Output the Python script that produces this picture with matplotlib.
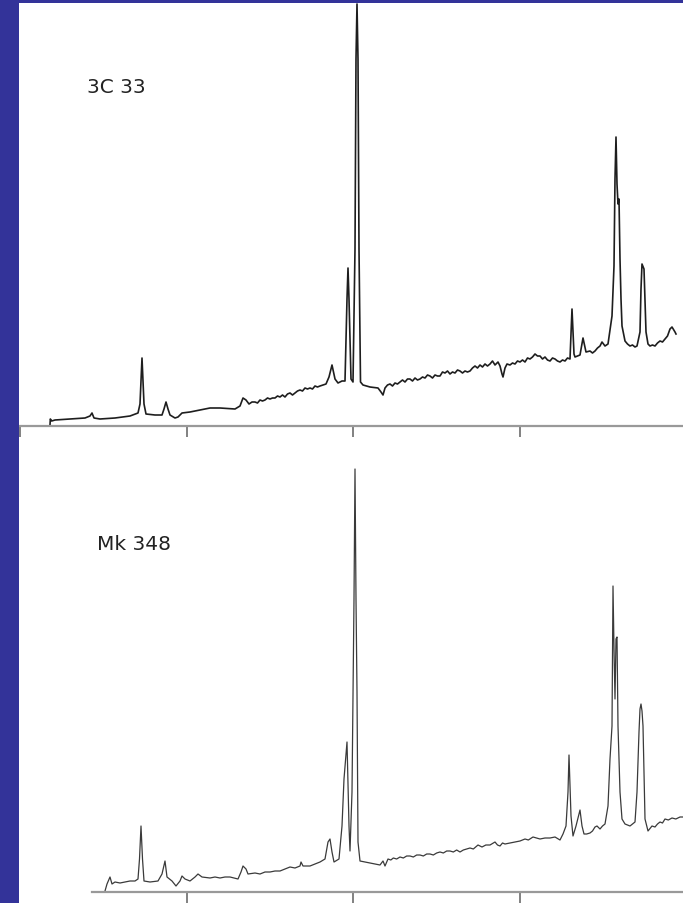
"""
    Optical spectra of the radio galaxy 3C 33 and the Seyfert Mk 348,
    traced from a scanned figure (observed wavelength vs. relative flux).
"""

import numpy as np
import matplotlib.pyplot as plt
from matplotlib.patches import Rectangle

plt.close('all')

# --- data: observed wavelength (Angstrom) and relative flux (arbitrary units)
wave_3c33 = [3180, 3182, 3190, 3210, 3300, 3390, 3420, 3432, 3444, 3480, 3570, 3660,
             3708, 3720, 3732, 3744, 3756, 3810, 3852, 3864, 3876, 3888, 3900, 3930,
             3948, 3972, 4020, 4080, 4140, 4200, 4290, 4320, 4338, 4356, 4374, 4392,
             4410, 4425, 4440, 4455, 4470, 4485, 4500, 4515, 4530, 4545, 4560, 4575,
             4590, 4605, 4620, 4635, 4650, 4665, 4680, 4695, 4710, 4725, 4740, 4755,
             4770, 4785, 4800, 4836, 4854, 4872, 4890, 4908,
             4932, 4950, 4962, 4968, 4974, 4986, 4998, 5010, 5016, 5022, 5028, 5034,
             5043, 5058, 5100, 5148, 5166, 5178, 5190, 5205, 5220, 5235, 5250, 5265,
             5280, 5295, 5310, 5325, 5340, 5355, 5370, 5385, 5400, 5415, 5430, 5445,
             5460, 5475, 5490, 5505, 5520, 5535, 5550, 5565, 5580, 5595, 5610, 5625,
             5640, 5655, 5670, 5685, 5700, 5715, 5730, 5745, 5760, 5775, 5790, 5805,
             5820, 5835, 5850, 5868, 5880, 5892, 5898, 5910, 5922, 5940, 5955, 5970,
             5985, 6000, 6015, 6030, 6045, 6060, 6075, 6090, 6105, 6120, 6135, 6150,
             6165, 6180, 6195, 6210, 6225, 6240, 6255, 6270, 6285, 6300,
             6312, 6324, 6330, 6345, 6360, 6378, 6396,
             6420, 6435, 6450, 6465, 6480, 6492, 6510, 6528, 6552, 6564, 6570, 6576,
             6582, 6588, 6594, 6600, 6606, 6612, 6630, 6645, 6660, 6675, 6690, 6702,
             6720, 6726, 6732, 6744, 6750, 6756, 6768, 6780, 6795, 6810, 6825, 6840,
             6855, 6870, 6885, 6900, 6912, 6930, 6936]
flux_3c33 = [1, 7, 5, 6, 7, 8, 10, 13, 8, 7, 8, 10,
             13, 22, 68, 22, 12, 11, 11, 17, 24, 17, 11, 8,
             9, 13, 14, 16, 18, 18, 17, 20, 28, 26, 22, 24,
             24, 23, 26, 25, 26, 28, 27, 28, 28, 30, 29, 31,
             29, 32, 33, 31, 33, 35, 36, 35, 38, 37, 38, 37,
             40, 39, 40, 42, 49, 61, 47, 43,
             45, 45, 127, 158, 127, 47, 44, 177, 367, 422, 367, 177,
             44, 41, 39, 38, 34, 31, 38, 41, 42, 40, 43, 42,
             44, 46, 44, 47, 47, 45, 48, 46, 47, 49, 48, 51,
             50, 48, 51, 50, 50, 54, 53, 55, 52, 54, 53, 56,
             55, 53, 55, 54, 55, 58, 60, 58, 61, 59, 62, 60,
             62, 65, 61, 64, 60, 52, 49, 58, 62, 61, 63, 62,
             65, 64, 66, 64, 68, 67, 69, 72, 70, 70, 67, 69,
             66, 65, 68, 67, 65, 64, 66, 65, 68, 67,
             117, 72, 69, 70, 71, 88, 74,
             75, 73, 75, 78, 80, 84, 80, 82, 110, 160, 247, 289,
             242, 222, 227, 167, 127, 100, 85, 82, 80, 81, 79, 80,
             94, 137, 162, 157, 127, 94, 82, 80, 81, 80, 83, 85,
             84, 87, 90, 97, 99, 94, 92]

wave_mk348 = [3510, 3522, 3540, 3552, 3570, 3600, 3630, 3660, 3690, 3708, 3717, 3726,
              3735, 3744, 3780, 3828, 3852, 3870, 3882, 3912, 3936, 3960, 3972, 3990,
              4020, 4050, 4068, 4092, 4140, 4170, 4200, 4230, 4260, 4308, 4326, 4338,
              4356, 4368, 4410, 4440, 4470, 4500, 4530, 4560, 4590, 4620, 4650, 4680,
              4686, 4698, 4740, 4770, 4800, 4830, 4848, 4860, 4872,
              4884, 4914, 4932, 4944, 4962, 4974, 4980, 4992, 5004, 5010, 5016, 5022,
              5028, 5040, 5070, 5100, 5130, 5160, 5178, 5190, 5208, 5225, 5240, 5260,
              5280, 5300, 5320, 5340, 5360, 5380, 5400, 5420, 5440, 5460, 5480, 5500,
              5520, 5540, 5560, 5580, 5600, 5620, 5640, 5660, 5680, 5700, 5720, 5748,
              5772, 5795, 5820, 5850, 5865, 5880, 5895, 5910, 5940, 5970, 6000, 6030,
              6050, 6078, 6100, 6120, 6150, 6180, 6210, 6240, 6258, 6276, 6288, 6294,
              6306, 6318, 6336, 6360, 6372, 6384, 6400, 6420, 6435, 6450, 6462, 6480,
              6495, 6510, 6528, 6540, 6552, 6558, 6564, 6570, 6576, 6582, 6588, 6600,
              6612, 6630, 6645, 6660, 6675, 6690, 6702, 6714, 6720, 6726, 6732, 6738,
              6750, 6768, 6792, 6810, 6825, 6840, 6855, 6870, 6890, 6912, 6935, 6960,
              6978]
flux_mk348 = [1, 8, 15, 8, 10, 9, 10, 11, 11, 13, 33, 66,
              33, 11, 10, 11, 18, 31, 15, 11, 6, 11, 16, 13,
              11, 15, 18, 15, 14, 15, 14, 15, 15, 13, 20, 26,
              23, 18, 19, 18, 20, 20, 21, 21, 23, 25, 24, 26,
              30, 26, 26, 28, 30, 33, 50, 53, 40,
              30, 33, 66, 113, 150, 66, 41, 100, 293, 423, 293, 200,
              50, 31, 30, 29, 28, 27, 31, 26, 33, 32, 34, 33,
              35, 34, 36, 36, 35, 37, 37, 36, 38, 38, 37, 39,
              40, 39, 41, 41, 40, 42, 40, 42, 43, 44, 43, 47,
              45, 47, 47, 50, 47, 46, 49, 48, 49, 50, 51, 53,
              52, 55, 54, 53, 54, 54, 55, 52, 58, 66, 100, 137,
              76, 56, 66, 82, 66, 58, 58, 59, 61, 65, 66, 63,
              66, 68, 86, 133, 166, 306, 243, 193, 253, 255, 166, 100,
              73, 68, 67, 66, 68, 70, 100, 160, 183, 188, 181, 166,
              73, 61, 66, 65, 68, 70, 69, 73, 72, 74, 73, 75,
              75]

tick_wave_top = [3000, 4000, 5000, 6000]
tick_wave_bot = [4000, 5000, 6000]

# --- figure
W, H = 683, 904
fig = plt.figure(figsize=(W/100, H/100), dpi=100, facecolor='white')

# blue slide frame (left and top)
fig.add_artist(Rectangle((0, 0), 19/W, 1, transform=fig.transFigure,
                         facecolor='#333399', edgecolor='none'))
fig.add_artist(Rectangle((0, 1 - 4/H), 1, 4/H, transform=fig.transFigure,
                         facecolor='#333399', edgecolor='none'))

xlim = (2994, 6978)

ax1 = fig.add_axes([19/W, (H-427)/H, 664/W, 423/H])
ax1.plot(wave_3c33, flux_3c33, color='#1e1e1e', lw=1.2)
ax1.set_xlim(xlim)
ax1.set_ylim(0, 423)
ax1.set_xticks(tick_wave_top)
ax1.spines['bottom'].set_bounds(3000, xlim[1])
ax1.text(3402, 340, '3C 33', fontsize=14.5, va='center', ha='left', color='#222')

ax2 = fig.add_axes([19/W, 11/H, 664/W, 453/H])
ax2.plot(wave_mk348, flux_mk348, color='#3a3a3a', lw=0.9)
ax2.set_xlim(xlim)
ax2.set_ylim(0, 453)
ax2.set_xticks(tick_wave_bot)
ax2.spines['bottom'].set_bounds(3432, xlim[1])
ax2.text(3462, 348, 'Mk 348', fontsize=14.5, va='center', ha='left', color='#222')

for ax in (ax1, ax2):
    ax.set_facecolor('white')
    ax.spines['top'].set_visible(False)
    ax.spines['right'].set_visible(False)
    ax.spines['left'].set_visible(False)
    ax.spines['bottom'].set_color('#999999')
    ax.spines['bottom'].set_linewidth(1.6)
    ax.set_yticks([])
    ax.tick_params(axis='x', direction='out', length=8, width=1.3,
                   color='#777777', labelbottom=False)

fig.savefig('out.png', dpi=100, facecolor='white')
